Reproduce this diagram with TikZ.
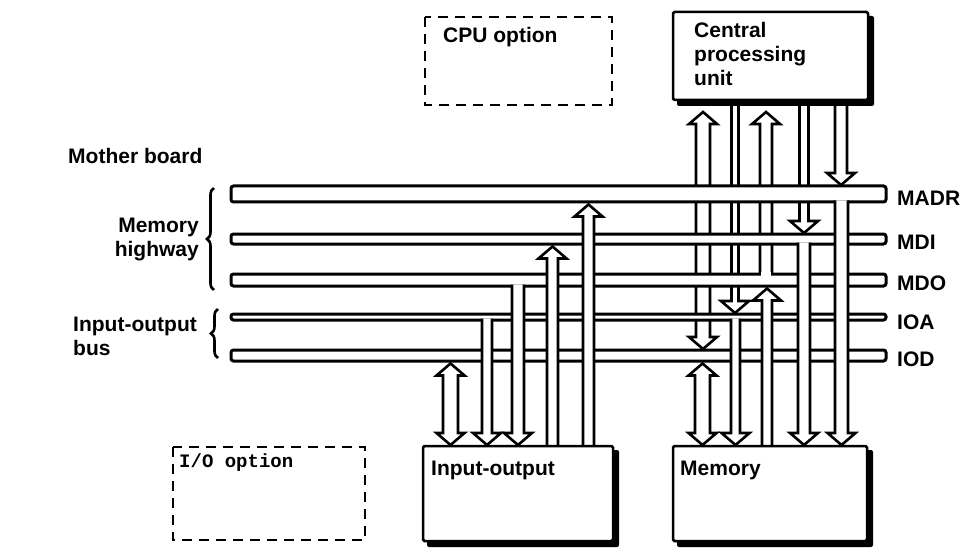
\documentclass[tikz,border=0pt]{standalone}
\usepackage{fontspec}
\setmainfont{Liberation Sans}
\newfontfamily\typefont{Liberation Mono}
\usetikzlibrary{decorations.pathreplacing}
\def\ahl{12}\def\ahw{14}
\newcommand\Adown[4]{\filldraw[shaft] (#1-#2,#3) -- (#1-#2,#4-\ahl) -- (#1-\ahw,#4-\ahl) -- (#1,#4) -- (#1+\ahw,#4-\ahl) -- (#1+#2,#4-\ahl) -- (#1+#2,#3);}
\newcommand\Aup[4]{\filldraw[shaft] (#1-#2,#4) -- (#1-#2,#3+\ahl) -- (#1-\ahw,#3+\ahl) -- (#1,#3) -- (#1+\ahw,#3+\ahl) -- (#1+#2,#3+\ahl) -- (#1+#2,#4);}
\newcommand\Aboth[4]{\filldraw[shaft] (#1-#2,#3+\ahl) -- (#1-\ahw,#3+\ahl) -- (#1,#3) -- (#1+\ahw,#3+\ahl) -- (#1+#2,#3+\ahl) -- (#1+#2,#4-\ahl) -- (#1+\ahw,#4-\ahl) -- (#1,#4) -- (#1-\ahw,#4-\ahl) -- (#1-#2,#4-\ahl) -- cycle;}
\begin{document}
\begin{tikzpicture}[x=1pt,y=-1pt,
  bar/.style={draw=black,fill=white,line width=3pt,rounded corners=2.5pt},
  shaft/.style={draw=black,fill=white,line width=2.6pt,line join=miter},
  box/.style={draw=black,fill=white,line width=2.5pt,rounded corners=1.5pt},
  shadow/.style={fill=black,rounded corners=2pt},
  optbox/.style={draw=black,line width=2.6pt,dash pattern=on 10pt off 7pt},
  lbl/.style={font=\fontsize{21}{24}\selectfont\bfseries,inner sep=0pt},
  brc/.style={decorate,decoration={brace,amplitude=7pt},line width=2.6pt}]
\useasboundingbox (0,0) rectangle (974,548);
\fill[white] (0,0) rectangle (974,548);

% --- CPU shafts (they pass under the buses)
\Aboth{703}{7}{112}{349}
\Adown{735}{3.5}{100}{313}
\Aup{766}{6}{112}{274}
\Adown{804}{4.5}{100}{233}
\Adown{841}{6}{100}{185}

% --- CPU box
\fill[shadow] (677,16) rectangle (874,106);
\draw[box] (673,12) rectangle (868,100);
\node[lbl,anchor=north west,align=left] (cputxt) at (694,22) {Central\\processing\\unit};

% --- buses
\draw[bar] (231,186) rectangle (886,202);
\draw[bar] (231,234) rectangle (886,244);
\draw[bar] (231,274) rectangle (886,286);
\draw[bar] (231,314) rectangle (886,320);
\draw[bar] (231,350) rectangle (886,361);
% opening where the CPU line joins MDO from above
\fill[white] (766-6+1.3,272) rectangle (766+6-1.3,276);

% --- memory shafts (they pass over the buses)
\Aboth{702.5}{7.5}{363.5}{445}
\Adown{735.5}{4.5}{318.5}{445}
\Aup{767}{5}{288.5}{446}
\Adown{804}{6}{242.5}{445}
\Adown{841.5}{6.5}{200.5}{445}

% --- input-output shafts
\Aboth{450.5}{7.5}{363.5}{445}
\Adown{487}{5}{318.5}{445}
\Adown{518}{6}{284.5}{445}
\Aup{552.5}{5.5}{246.5}{446}
\Aup{588.5}{5.5}{204.5}{446}

% --- module boxes
\fill[shadow] (427,450) rectangle (619,547);
\draw[box] (423,446) rectangle (613,541);
\node[lbl,anchor=west] (iotxt) at (431,470) {Input-output};
\fill[shadow] (677,450) rectangle (873,547);
\draw[box] (673,446) rectangle (867,541);
\node[lbl,anchor=west] (memtxt) at (680,470) {Memory};

% --- option boxes
\draw[optbox] (425,17) rectangle (612,105);
\node[lbl,anchor=west] (cpuopt) at (443,37) {CPU option};
\draw[optbox] (173,447) rectangle (365,540);
\node[inner sep=0pt,anchor=west,font=\typefont\bfseries\fontsize{19}{21}\selectfont] (ioopt) at (179,463) {I/O option};

% --- left labels
\node[lbl,anchor=west] (mb) at (68,156) {Mother board};
\node[lbl,anchor=east,align=right] (mh) at (199,240) {Memory\\highway};
\node[lbl,anchor=west,align=left] (iob) at (73,336) {Input-output\\bus};
\draw[brc] (214,290) -- (214,188);
\draw[brc] (218,358) -- (218,309);

% --- bus labels
\node[lbl,anchor=west] (madr) at (897,198) {MADR};
\node[lbl,anchor=west] (mdi) at (897,242) {MDI};
\node[lbl,anchor=west] (mdo) at (897,283) {MDO};
\node[lbl,anchor=west] (ioa) at (897,322) {IOA};
\node[lbl,anchor=west] (iod) at (897,359) {IOD};
\end{tikzpicture}
\end{document}
